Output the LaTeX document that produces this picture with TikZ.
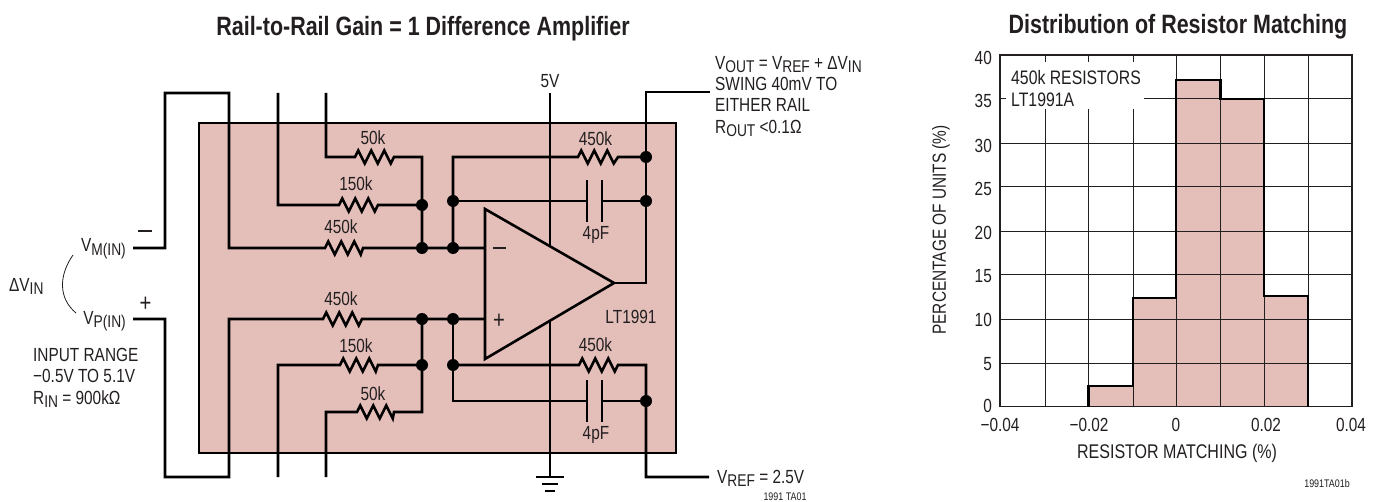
\documentclass[tikz,border=0pt]{standalone}
\usepackage{fontspec}
\setmainfont[FakeStretch=0.81]{Liberation Sans}
\usetikzlibrary{positioning}
\definecolor{chip}{HTML}{E4BFBA}
\definecolor{ink}{HTML}{231F20}
\newcommand{\sbs}[1]{\raisebox{-3.5pt}{\fontsize{17}{17}\selectfont #1}}
\tikzset{
  lab/.style={inner sep=0,text=ink,font=\fontsize{19}{21.3}\selectfont},
  blocktext/.style={lab,align=left,anchor=north west},
  tiny/.style={inner sep=0,text=ink,font=\fontsize{11}{11}\selectfont},
  heading/.style={inner sep=0,text=ink,font=\fontsize{26.5}{26.5}\bfseries\selectfont},
  wire/.style={draw=black,line width=2.6pt,line join=miter},
  dot/.style={circle,fill=black,inner sep=0,minimum size=12pt},
  gridline/.style={draw=ink,line width=1pt},
  zig/.style={to path={-- ++(3.25,-6.5) -- ++(6.5,13) -- ++(6.5,-13) -- ++(6.5,13) -- ++(6.5,-13) -- ++(6.5,13) -- (\tikztotarget)}},
}
\begin{document}
\begin{tikzpicture}[x=1pt,y=-1pt]
\useasboundingbox (0,0) rectangle (1380,502);

% package outline
\draw[wire,fill=chip] (199,123) rectangle (676,453);

% titles
\node[heading] (titleamp) at (423,29) {Rail-to-Rail Gain = 1 Difference Amplifier};
\node[heading] (titledist) at (1178,27) {Distribution of Resistor Matching};

% points on the wires
\coordinate (vmin) at (133,248);
\coordinate (vpin) at (133,319);
\coordinate (vmtop) at (165,93);
\coordinate (vmbend) at (229,93);
\coordinate (vpbot) at (165,477);
\coordinate (vpbend) at (229,477);
\coordinate (jA) at (422,205);
\coordinate (jB) at (422,248);
\coordinate (jC) at (453,248);
\coordinate (jD) at (453,201);
\coordinate (jE) at (646,157);
\coordinate (jF) at (646,201);
\coordinate (jG) at (422,319);
\coordinate (jH) at (422,365);
\coordinate (jI) at (453,319);
\coordinate (jJ) at (453,365);
\coordinate (jK) at (646,401);

% op amp
\coordinate (ampT) at (485,209);
\coordinate (ampB) at (485,359);
\coordinate (ampO) at (614,283);
\coordinate (ampM) at (485,248);
\coordinate (ampP) at (485,319);
\coordinate (ampV) at (550,245);
\coordinate (ampG) at (550,320);

% upper input network
\draw[wire] (vmin) -- (vmin -| vmtop) -- (vmtop) -- (vmbend) -- (229,248) -- (325,248) to[zig] (363,248) -- (jB) -- (jC) -- (ampM);
\draw[wire] (278,93) -- (278,205) -- (339,205) to[zig] (378,205) -- (jA);
\draw[wire] (326,93) -- (326,157) -- (355,157) to[zig] (394,157) -- (422,157) -- (jB);
\draw[wire] (jC) -- (jD) -- (453,157) -- (578,157) to[zig] (618,157) -- (jE);
\draw[wire] (jD) -- (587,201);
\draw[wire] (602,201) -- (jF);
\draw[wire] (587,180) -- (587,222);
\draw[wire] (602,180) -- (602,222);

% output
\draw[wire] (710,92) -- (646,92) -- (646,283) -- (ampO);
\draw[wire] (550,93) -- (ampV);

% lower input network
\draw[wire] (vpin) -- (vpin -| vpbot) -- (vpbot) -- (vpbend) -- (229,319) -- (323,319) to[zig] (362,319) -- (jG) -- (jI) -- (ampP);
\draw[wire] (278,477) -- (278,365) -- (340,365) to[zig] (378,365) -- (jH);
\draw[wire] (326,477) -- (326,412) -- (357,412) to[zig] (394,412) -- (422,412) -- (jG);
\draw[wire] (jI) -- (jJ) -- (453,401) -- (587,401);
\draw[wire] (jJ) -- (579,365) to[zig] (618,365) -- (646,365) -- (646,477) -- (709,477);
\draw[wire] (602,401) -- (jK);
\draw[wire] (587,380) -- (587,422);
\draw[wire] (602,380) -- (602,422);

% ground
\draw[wire] (ampG) -- (550,477);
\draw[wire] (536,477) -- (564,477);
\draw[wire] (542,484) -- (558,484);
\draw[wire] (545,491) -- (555,491);

\draw[wire,fill=chip] (ampT) -- (ampO) -- (ampB) -- cycle;

\foreach \p in {jA,jB,jC,jD,jE,jF,jG,jH,jI,jJ,jK}
  \node[dot] (d\p) at (\p) {};

% input polarity
\draw[line width=1.8pt,draw=ink] (138,231) -- (152,231);
\node[lab,font=\fontsize{25}{25}\selectfont] (plusin) at (145.5,304) {+};
\draw[line width=1.6pt,draw=ink] (493,248) -- (506,248);
\node[lab,font=\fontsize{25}{25}\selectfont] (plusamp) at (499,321) {+};

% resistor and capacitor values
\node[lab] (r50a) at (373,138) {50k};
\node[lab] (r150a) at (356,184) {150k};
\node[lab] (r450a) at (341,227) {450k};
\node[lab] (r450b) at (341,299) {450k};
\node[lab] (r150b) at (356,346) {150k};
\node[lab] (r50b) at (373,394) {50k};
\node[lab] (rfa) at (595.5,139) {450k};
\node[lab] (cfa) at (596,235) {4pF};
\node[lab] (rfb) at (595.5,345) {450k};
\node[lab] (cfb) at (596,435) {4pF};
\node[lab] (partno) at (631,317) {LT1991};
\node[lab] (supply) at (550,81) {5V};

% input side text
\node[lab,anchor=base east] (vmlab) at (126,252) {V\sbs{M(IN)}};
\node[lab,anchor=base east] (vplab) at (126,324) {V\sbs{P(IN)}};
\node[lab,anchor=base west] (dvlab) at (9,291) {ΔV\sbs{IN}};
\coordinate (arcA) at (73,255);
\coordinate (arcB) at (76,313);
\draw[line width=.8pt,draw=ink] (arcA) .. controls (59,275) and (58,298) .. (arcB);
\node[blocktext] (inrange) at (33,348) {INPUT RANGE\\−0.5V TO 5.1V\\R\sbs{IN} = 900kΩ};

% output side text
\node[blocktext] (outtext) at (715,56) {V\sbs{OUT} = V\sbs{REF} + ΔV\sbs{IN}\\SWING 40mV TO\\EITHER RAIL\\R\sbs{OUT} <0.1Ω};
\node[lab,anchor=base west] (reflab) at (717,483) {V\sbs{REF} = 2.5V};
\node[tiny] (figa) at (785,497) {1991 TA01};

% histogram
\fill[chip] (1088.7,406.5) -- (1088.7,386) -- (1133,386) -- (1133,298) -- (1176,298) -- (1176,80) -- (1220.7,80) -- (1220.7,99) -- (1264,99) -- (1264,296) -- (1308,296) -- (1308,406.5) -- cycle;
\foreach \y in {99,144,187,232,275,319,363}
  \draw[gridline] (1000,\y) -- (1352,\y);
\foreach \x in {1045.7,1088.7,1133,1176,1220.7,1264,1308}
  \draw[gridline] (\x,55) -- (\x,406.5);
\draw[gridline,line width=1.4pt] (1000,55) rectangle (1352,406.5);
\draw[line width=2.6pt,line join=miter] (1088.7,406.5) -- (1088.7,386) -- (1133,386) -- (1133,298) -- (1176,298) -- (1176,80) -- (1220.7,80) -- (1220.7,99) -- (1264,99) -- (1264,296) -- (1308,296) -- (1308,406.5);

% chart note sits on white
\fill[white] (1006,62) rectangle (1144,109);
\node[blocktext,font=\fontsize{19.5}{22}\selectfont] (note) at (1011,70) {450k RESISTORS\\LT1991A};

% chart axes
\foreach \v/\y in {40/58,35/101,30/146,25/189,20/233,15/276,10/320,5/364,0/406}
  \node[lab,anchor=east] (yt\v) at (992,\y) {\v};
\node[lab] (xta) at (1000,425) {−0.04};
\node[lab] (xtb) at (1089,425) {−0.02};
\node[lab] (xtc) at (1176,425) {0};
\node[lab] (xtd) at (1266,425) {0.02};
\node[lab] (xte) at (1351,425) {0.04};
\node[lab,font=\fontsize{19.8}{22}\selectfont] (xlab) at (1177,453) {RESISTOR MATCHING (\%)};
\node[lab,rotate=90] (ylab) at (941,230) {PERCENTAGE OF UNITS (\%)};
\node[tiny] (figb) at (1327,484) {1991TA01b};
\end{tikzpicture}
\end{document}
